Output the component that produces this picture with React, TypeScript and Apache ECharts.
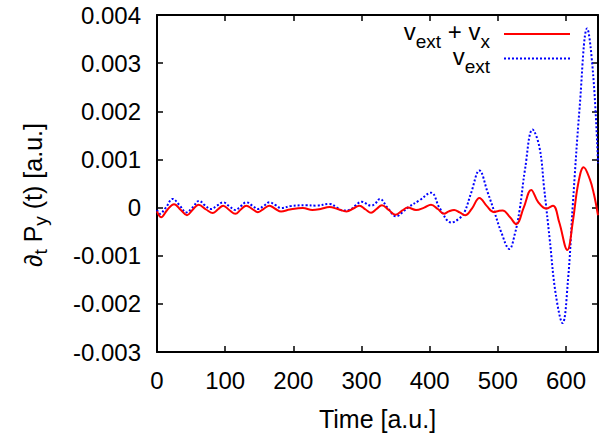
import React, { useEffect, useRef } from "react";
import * as echarts from "echarts";

// Time axis ticks and y axis ticks
const xTickValues = [0, 100, 200, 300, 400, 500, 600];
const yTickValues = [-0.003, -0.002, -0.001, 0, 0.001, 0.002, 0.003, 0.004];

// v_ext + v_x (red, solid)
const redTime = [
  0, 6, 15, 25, 35, 44, 52, 61, 72, 82,
  90, 97, 106, 115, 123, 131, 140, 148, 157, 165,
  174, 182, 195, 214, 228, 240, 253, 265, 278, 288,
  297, 306, 314, 322, 330, 340, 350, 360, 368, 380,
  392, 402, 412, 421, 428, 436, 444, 452, 462, 473,
  484, 494, 501, 507, 518, 527, 538, 549, 559, 571,
  581, 590, 602, 610, 618, 626, 635, 641, 647,
];
const redValue = [
  -0.00008, -0.0002, -0.00005, 0.00007, -0.00005, -0.00016, -0.00005, 0.00006, -0.00004, -0.000115,
  -0.00003, 0.00004, -0.00005, -0.00013, -0.00004, 0.00004, -0.00003, -0.000095, -0.00002, 0.00004,
  -0.00003, -0.00008, -0.00004, -0.00001, -0.00005, -0.00003, 0.00001, -0.00003, -0.00008, -0.00002,
  0.00004, -0.00004, -0.00011, -0.00003, 0.00005, -0.00005, -0.00015, -0.00006, 0.0, -0.00005,
  0.0, 0.00006, -0.00003, -0.00013, -0.00008, -0.00005, -0.0001, -0.00016, -0.00002, 0.0002,
  0.00003, -0.00009, -0.00007, -0.00006, -0.0002, -0.000345, 0.0, 0.000365, 0.00012, -0.00002,
  0.00004, -0.0003, -0.00088, -0.0003, 0.0005, 0.00084, 0.00059, 0.00028, -0.00016,
];

// v_ext (blue, dotted)
const blueTime = [
  0, 4, 13, 23, 33, 43, 52, 62, 70, 79,
  88, 97, 106, 115, 123, 131, 140, 148, 157, 165,
  174, 182, 196, 219, 233, 253, 264, 272, 282, 291,
  300, 314, 320, 327, 338, 351, 360, 368, 385, 402,
  415, 432, 444, 451, 461, 473, 485, 495, 505, 517,
  525, 532, 540, 551, 561, 568, 576, 585, 595, 603,
  610, 620, 631, 640, 647,
];
const blueValue = [
  -0.00005, -0.00013, 0.0, 0.00018, 0.00005, -0.0001, 0.0, 0.00014, 0.00005, -0.00003,
  0.00004, 0.00011, 0.00003, -0.00005, 0.00003, 0.00011, 0.00004, -0.00003, 0.00004, 0.00011,
  0.00005, -0.00001, 0.00003, 0.00005, 0.00004, 0.000075, 0.0, -0.00006, -0.00005, 0.00004,
  0.00012, 0.00004, 0.00008, 0.00018, 0.0, -0.00018, -0.0001, 0.0, 0.00015, 0.00031,
  -0.00002, -0.00031, -0.00022, -0.0001, 0.00031, 0.00077, 0.00032, -0.00009, -0.00051, -0.00086,
  -0.00055, -0.00005, 0.0008, 0.00162, 0.00126, 0.0004, -0.00064, -0.0018, -0.0024, -0.0015,
  0.00005, 0.00207, 0.00372, 0.00274, 0.00092,
];

const FONT = "'Liberation Sans', Arial, Helvetica, sans-serif";
const X_MIN = 0;
const X_MAX = 647;

function formatY(v: number): string {
  if (Math.abs(v) < 1e-9) return "0";
  return v.toFixed(3);
}

export default function App() {
  const ref = useRef<HTMLDivElement>(null);

  useEffect(() => {
    if (!ref.current) return;
    const chart = echarts.init(ref.current, null, { renderer: "svg" });

    const redData = redTime.map((t, i) => [t, redValue[i]]);
    const blueData = blueTime.map((t, i) => [t, blueValue[i]]);

    const axisLine = { show: true, onZero: false, lineStyle: { color: "#000", width: 2 } };
    const axisTick = { show: true, inside: true, length: 6, lineStyle: { color: "#000", width: 1.5 } };

    const option: any = {
      animation: false,
      backgroundColor: "#fff",
      grid: { left: 157, top: 15, right: 4, bottom: 76, show: false },
      xAxis: [
        {
          type: "value",
          min: X_MIN,
          max: X_MAX,
          interval: 100,
          position: "bottom",
          axisLine,
          axisTick,
          splitLine: { show: false },
          axisLabel: {
            margin: 16,
            fontSize: 24,
            color: "#000",
            fontFamily: FONT,
            showMaxLabel: false,
            formatter: (v: number) => (xTickValues.indexOf(v) >= 0 ? String(v) : ""),
          },
          name: "Time [a.u.]",
          nameLocation: "middle",
          nameGap: 54,
          nameTextStyle: { fontSize: 25, color: "#000", fontFamily: FONT },
        },
        {
          type: "value",
          min: X_MIN,
          max: X_MAX,
          interval: 100,
          position: "top",
          axisLine,
          axisTick,
          splitLine: { show: false },
          axisLabel: { show: false },
        },
      ],
      yAxis: [
        {
          type: "value",
          min: yTickValues[0],
          max: yTickValues[yTickValues.length - 1],
          interval: 0.001,
          position: "left",
          axisLine,
          axisTick,
          splitLine: { show: false },
          axisLabel: {
            margin: 16,
            fontSize: 24,
            color: "#000",
            fontFamily: FONT,
            formatter: formatY,
          },
        },
        {
          type: "value",
          min: yTickValues[0],
          max: yTickValues[yTickValues.length - 1],
          interval: 0.001,
          position: "right",
          axisLine,
          axisTick,
          splitLine: { show: false },
          axisLabel: { show: false },
        },
      ],
      series: [
        {
          name: "v_ext + v_x",
          type: "line",
          data: redData,
          xAxisIndex: 0,
          yAxisIndex: 0,
          showSymbol: false,
          smooth: 0.4,
          lineStyle: { color: "#ff0000", width: 2 },
          z: 3,
        },
        {
          name: "v_ext",
          type: "line",
          data: blueData,
          xAxisIndex: 0,
          yAxisIndex: 0,
          showSymbol: false,
          smooth: 0.4,
          lineStyle: { color: "#0000ff", width: 2, type: [2, 2] },
          z: 2,
        },
      ],
      graphic: [
        {
          type: "text",
          x: 490,
          y: 19,
          z: 10,
          style: {
            text: "{m|v}{s|ext}{m| + v}{s|x}",
            align: "right",
            verticalAlign: "top",
            fill: "#000",
            rich: {
              m: { fontSize: 24, fontFamily: FONT, verticalAlign: "top", fill: "#000" },
              s: { fontSize: 19, fontFamily: FONT, verticalAlign: "top", padding: [12.5, 0, 0, 0], fill: "#000" },
            },
          },
        },
        {
          type: "line",
          z: 10,
          shape: { x1: 504, y1: 34, x2: 570, y2: 34 },
          style: { stroke: "#ff0000", lineWidth: 2 },
        },
        {
          type: "text",
          x: 490,
          y: 44,
          z: 10,
          style: {
            text: "{m|v}{s|ext}",
            align: "right",
            verticalAlign: "top",
            fill: "#000",
            rich: {
              m: { fontSize: 24, fontFamily: FONT, verticalAlign: "top", fill: "#000" },
              s: { fontSize: 19, fontFamily: FONT, verticalAlign: "top", padding: [12.5, 0, 0, 0], fill: "#000" },
            },
          },
        },
        {
          type: "line",
          z: 10,
          shape: { x1: 504, y1: 58.5, x2: 570, y2: 58.5 },
          style: { stroke: "#0000ff", lineWidth: 2, lineDash: [2, 2] },
        },
        {
          type: "text",
          x: 20.5,
          y: 195,
          rotation: Math.PI / 2,
          z: 10,
          style: {
            text: "{m|\u2202}{s|t}{m| P}{s|y}{m| (t) [a.u.]}",
            align: "center",
            verticalAlign: "top",
            fill: "#000",
            rich: {
              m: { fontSize: 25, fontFamily: FONT, verticalAlign: "top", fill: "#000" },
              s: { fontSize: 19, fontFamily: FONT, verticalAlign: "top", padding: [10, 0, 0, 0], fill: "#000" },
            },
          },
        },
      ],
    };

    chart.setOption(option);
    return () => {
      chart.dispose();
    };
  }, []);

  return (
    <div
      ref={ref}
      style={{ position: "fixed", left: 0, top: 0, width: 602, height: 436, background: "#fff" }}
    />
  );
}
